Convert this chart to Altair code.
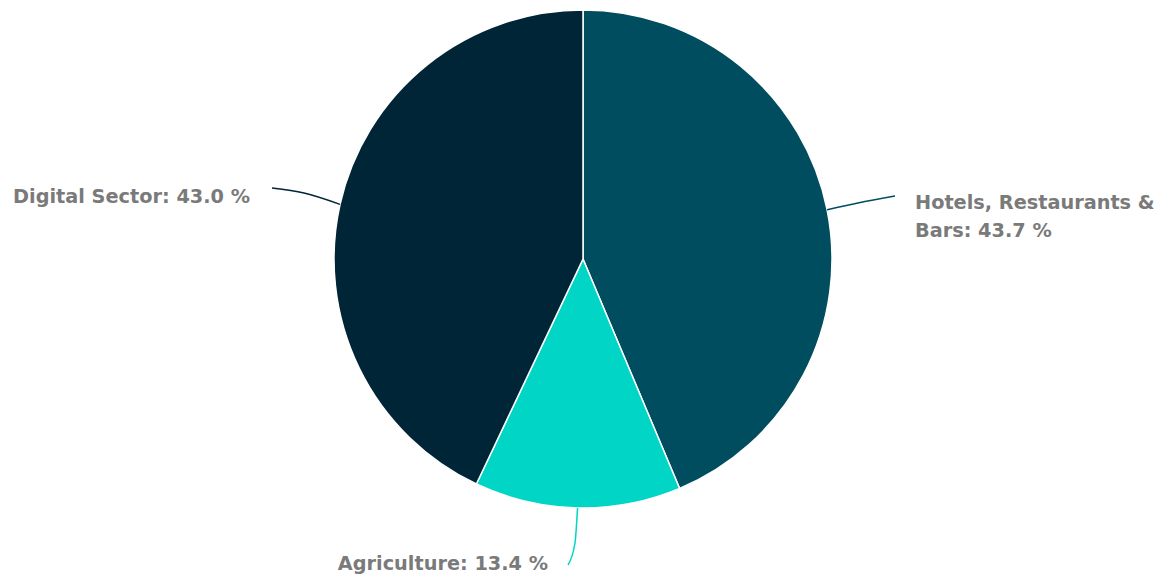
import math
import altair as alt
import pandas as pd

# ---- data ----
categories = ["Hotels, Restaurants & Bars", "Agriculture", "Digital Sector"]
values = [43.7, 13.4, 43.0]
colors = ["#004d5f", "#00d5c6", "#002537"]

# ---- layout (pixels, chart coordinates) ----
W, H = 1153, 567
CX, CY, R = 575, 251, 249
label_text = ["Hotels, Restaurants &\nBars: {v:.1f} %", "Agriculture: {v:.1f} %", "Digital Sector: {v:.1f} %"]
label_pos = [(907, 201, "left"), (540, 562, "right"), (242, 195, "right")]
conn_mid = [(850, 195), (567, 535), (296, 185)]
conn_end = [(887, 188), (560, 557), (264, 180)]

df = pd.DataFrame({"category": categories, "value": values, "order": list(range(len(values)))})

color_scale = alt.Scale(domain=categories, range=colors)

arcs = alt.Chart(df).mark_arc(outerRadius=R, stroke="white", strokeWidth=1.5).encode(
    theta=alt.Theta("value:Q", stack=True),
    color=alt.Color("category:N", scale=color_scale, legend=None),
    order=alt.Order("order:Q"),
    x=alt.value(CX),
    y=alt.value(CY),
)

# connector lines computed from the data's slice mid-angles
total = sum(values)
rows = []
cum = 0.0
for i, (c, v) in enumerate(zip(categories, values)):
    mid = (cum + v / 2) / total * 2 * math.pi
    cum += v
    ex = CX + R * math.sin(mid)
    ey = CY - R * math.cos(mid)
    pts = [(ex, ey), conn_mid[i], conn_end[i]]
    for k, (px, py) in enumerate(pts):
        rows.append({"category": c, "k": k, "px": px, "py": py})
conn_df = pd.DataFrame(rows)

connectors = alt.Chart(conn_df).mark_line(interpolate="monotone", strokeWidth=1.5).encode(
    x=alt.X("px:Q", scale=None, axis=None),
    y=alt.Y("py:Q", scale=None, axis=None),
    color=alt.Color("category:N", scale=color_scale, legend=None),
    detail="category:N",
    order="k:Q",
)

lab_rows = []
for i, v in enumerate(values):
    lx, ly, al = label_pos[i]
    lab_rows.append({"t": label_text[i].format(v=v), "lx": lx, "ly": ly, "al": al})
lab_df = pd.DataFrame(lab_rows)

def label_layer(al):
    return alt.Chart(lab_df).transform_filter(alt.datum.al == al).mark_text(
        align=al, baseline="alphabetic", font="DejaVu Sans", fontSize=19.3, fontWeight="bold",
        color="#7a7a7a", lineBreak="\n", lineHeight=28,
    ).encode(
        x=alt.X("lx:Q", scale=None, axis=None),
        y=alt.Y("ly:Q", scale=None, axis=None),
        text="t:N",
    )

chart = alt.layer(arcs, connectors, label_layer("left"), label_layer("right")).properties(
    width=W, height=H, padding=0, autosize=alt.AutoSizeParams(type="none"),
    background="white",
).configure_view(stroke=None)

chart.save("out.html", embed_options={"renderer": "svg", "actions": False})
